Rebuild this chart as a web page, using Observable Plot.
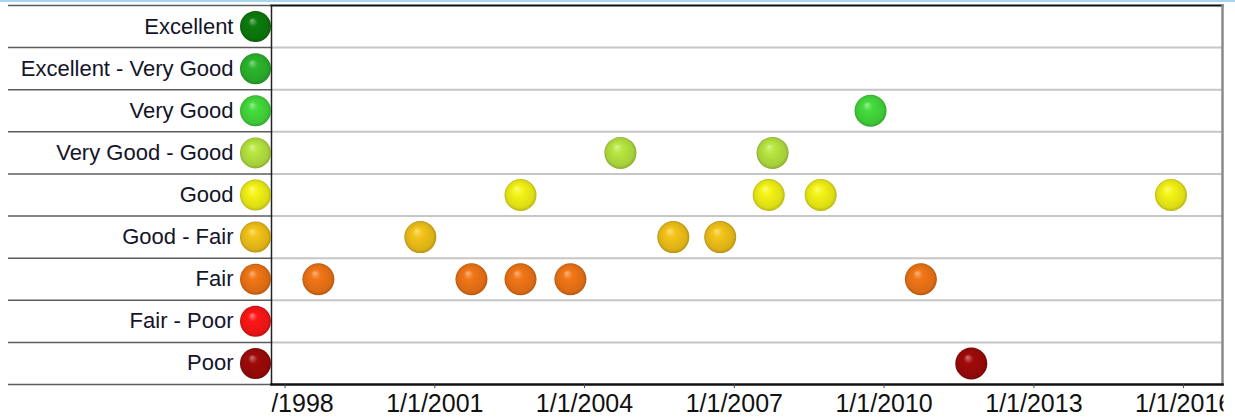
<!DOCTYPE html>
<html><head><meta charset="utf-8">
<script src="https://cdn.jsdelivr.net/npm/d3@7"></script>
<script src="https://cdn.jsdelivr.net/npm/@observablehq/plot@0.6"></script>
<style>
body{margin:0;background:#fff;}
#wrap{position:relative;width:1235px;height:417px;}
#topline{position:absolute;top:0;left:0;width:1235px;height:2px;background:#a8d6f0;}
</style></head><body><div id="wrap"><div id="chart"></div><div id="topline"></div></div>
<script>
const categories = ["Excellent","Excellent - Very Good","Very Good","Very Good - Good","Good","Good - Fair","Fair","Fair - Poor","Poor"];
const categoryColors = ["#0c7c0c","#2cb62c","#44dc3c","#b8e640","#f4f416","#f4c418","#f27616","#ff1616","#a00a0a"];
const pointDates = ["1998-09-02","2001-09-26","2002-09-20","2003-09-20","2010-09-27",
  "2000-09-17","2005-10-12","2006-09-20",
  "2002-09-20","2007-09-10","2008-09-24","2015-10-01",
  "2004-09-20","2007-10-08",
  "2009-09-24",
  "2011-10-01"];
const pointRatings = ["Fair","Fair","Fair","Fair","Fair",
  "Good - Fair","Good - Fair","Good - Fair",
  "Good","Good","Good","Good",
  "Very Good - Good","Very Good - Good",
  "Very Good",
  "Poor"];
const tickYears = [1998,2001,2004,2007,2010,2013,2016];
const tickLabels = ["1/1/1998","1/1/2001","1/1/2004","1/1/2007","1/1/2010","1/1/2013","1/1/2016"];
const xDomain = ["1997-09-24","2016-10-12"];

const points = pointDates.map((d,i)=>({date:new Date(d), rating:pointRatings[i]}));
const idx = r => categories.indexOf(r);

const W = 1235, H = 417, ML = 271, MR = 13, MT = 5, MB = 33;
const font = "'Liberation Sans', Arial, sans-serif";

const chart = Plot.plot({
  width: W, height: H,
  marginLeft: ML, marginRight: MR, marginTop: MT, marginBottom: MB,
  style: {fontFamily: font, background: "white", overflow: "visible"},
  x: {type: "utc", domain: xDomain.map(d=>new Date(d))},
  y: {domain: [0, categories.length], reverse: true},
  color: {type: "identity"},
  marks: [
    Plot.ruleY(d3.range(1, categories.length), {stroke: "#c6c6c6", strokeWidth: 2}),
    Plot.ruleY(d3.range(0, categories.length + 1), {stroke: "#5c5c5c", strokeWidth: 1.5, insetLeft: -(ML - 8), insetRight: W - ML - MR}),
    Plot.frame({anchor: "top", stroke: "#111", strokeWidth: 2}),
    Plot.frame({anchor: "right", stroke: "#8a8a8a", strokeWidth: 2.5}),
    Plot.frame({anchor: "left", stroke: "#222", strokeWidth: 1.5}),
    Plot.frame({anchor: "bottom", stroke: "#111", strokeWidth: 2.5}),
    Plot.axisY(categories.map((c,i)=>i+0.5), {tickSize: 0, tickPadding: 38, fontSize: 22, fill: "#14142a",
      tickFormat: d => categories[Math.floor(d)], label: null}),
    Plot.axisX(tickYears.map(y=>new Date(Date.UTC(y,0,1))), {tickSize: 4, tickPadding: 6, fontSize: 25, fill: "#111", stroke: "#444",
      tickFormat: d => tickLabels[tickYears.indexOf(d.getUTCFullYear())], label: null}),
    Plot.dot(categories, {frameAnchor: "left", dx: -16, y: (d,i)=>i+0.5, r: 15.5, fill: (d,i)=>`url(#ball${i})`, stroke: null}),
    Plot.dot(points, {x: "date", y: d=>idx(d.rating)+0.5, r: 16, fill: d=>`url(#ball${idx(d.rating)})`, stroke: null})
  ]
});

const svg = d3.select(chart);
const defs = svg.insert("defs", ":first-child");
categoryColors.forEach((c,i)=>{
  const g = defs.append("radialGradient").attr("id", `ball${i}`)
    .attr("cx","0.5").attr("cy","0.5").attr("r","0.5").attr("fx","0.38").attr("fy","0.3");
  g.append("stop").attr("offset","0").attr("stop-color", d3.interpolateRgb(c, "#fff")(0.45));
  g.append("stop").attr("offset","0.3").attr("stop-color", c);
  g.append("stop").attr("offset","0.85").attr("stop-color", d3.interpolateRgb(c, "#000")(0.1));
  g.append("stop").attr("offset","1").attr("stop-color", d3.interpolateRgb(c, "#000")(0.25));
});
defs.append("clipPath").attr("id","xclip").append("rect")
  .attr("x", ML).attr("y", 0).attr("width", W - ML - MR + 1).attr("height", H);
const axisG = svg.select('g[aria-label="x-axis tick label"]');
const labels = axisG.selectAll("text").nodes();
const clipG = axisG.append("g").attr("clip-path","url(#xclip)");
[labels[0], labels[labels.length-1]].forEach(n => n && clipG.node().appendChild(n));
document.getElementById("chart").appendChild(chart);
</script></body></html>
